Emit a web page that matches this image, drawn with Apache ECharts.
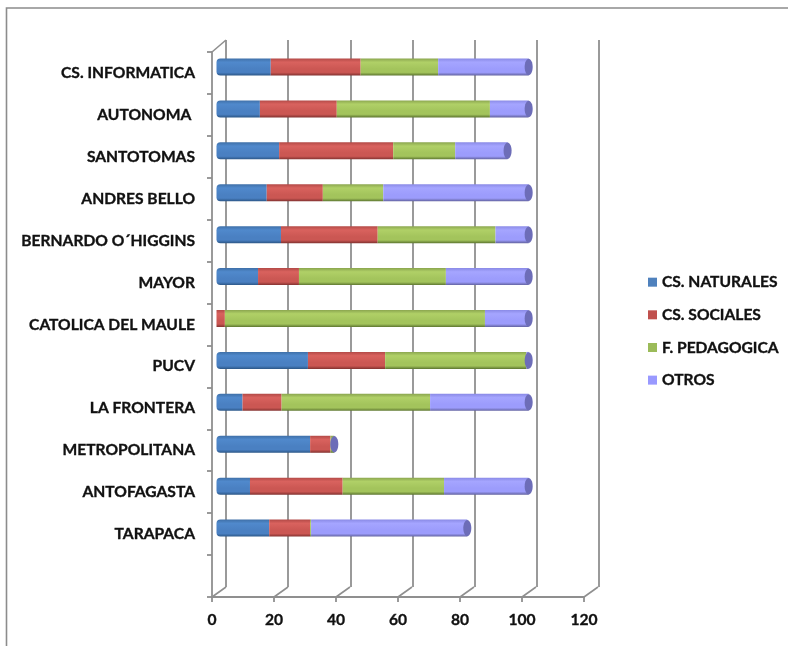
<!DOCTYPE html>
<html>
<head>
<meta charset="utf-8">
<style>html,body{margin:0;padding:0;background:#fff}#c{width:788px;height:646px}</style>
<script src="https://cdn.jsdelivr.net/npm/echarts@6/dist/echarts.min.js"></script>
</head>
<body>
<div id="c"></div>
<script>
const categories = ['CS. INFORMATICA','AUTONOMA ','SANTOTOMAS','ANDRES BELLO','BERNARDO O´HIGGINS','MAYOR','CATOLICA DEL MAULE','PUCV','LA FRONTERA','METROPOLITANA','ANTOFAGASTA','TARAPACA',''];
const naturales = [17.5,14,20.2,16.2,20.8,13.4,0,29.5,8.4,30.2,10.8,17,null];
const sociales  = [29,24.8,36.8,18.1,31.2,13.2,2.7,24.9,12.6,6.6,29.9,13.2,null];
const pedagogica= [25,49.4,20,19.5,38,47.4,83.9,45.6,47.9,1.2,32.7,0.3,null];
const otros     = [29.2,12.5,16.9,46.9,10.7,26.7,14.1,0.7,31.8,0,27.3,50.4,null];
const seriesNames = ['CS. NATURALES','CS. SOCIALES','F. PEDAGOGICA','OTROS'];
const xTicks = [0,20,40,60,80,100,120];

const FONT = 'Lato';
const GRIDC = '#8f8f8f';
const DX = 14, DY = -10;
function grad(a,b,c,d){
  return {type:'linear',x:0,y:0,x2:0,y2:1,colorStops:[
    {offset:0,color:a},{offset:.22,color:b},{offset:.62,color:c},{offset:.82,color:c},{offset:1,color:d}]};
}
const fills = [
  grad('#3f70a8','#5089cc','#4a80c2','#2c5787'),
  grad('#b34a47','#d9625e','#cb5753','#823230'),
  grad('#8ba64f','#b0d067','#a3c45c','#5d7630'),
  grad('#8a8ae6','#a5a5ff','#9c9cfc','#62629f')
];
const flat = ['#4f81bd','#c0504d','#9bbb59','#9999ff'];
const values = [naturales,sociales,pedagogica,otros];
const totals = categories.map((_,i)=> values[3][i]===null ? null : values.reduce((s,a)=>s+a[i],0));

const chart = echarts.init(document.getElementById('c'),null,{renderer:'canvas'});
const valueAxisBase = {type:'value',min:0,max:120,interval:20};
const catBase = {type:'category',data:categories,inverse:true};
const lineCfg = {lineStyle:{color:GRIDC,width:1.8}};
const textCfg = {fontFamily:FONT,fontWeight:'bold',fontSize:15.6,color:'#111',textBorderColor:'#111',textBorderWidth:0.35};

chart.setOption({
  animation:false,
  backgroundColor:'#fff',
  graphic:[
    {type:'polyline',z:0,shape:{points:[[6.5,646],[6.5,8],[788,8]]},style:{stroke:'#8c8c8c',lineWidth:1.6,fill:null}}
  ],
  legend:{
    orient:'vertical',left:643,top:269,itemWidth:9,itemHeight:9,itemGap:16.3,icon:'rect',
    textStyle:Object.assign({},textCfg),
    data:seriesNames.map((n,i)=>({name:n,itemStyle:{color:flat[i],borderWidth:0}}))
  },
  grid:[
    {left:212,top:52,width:372,height:545},
    {left:226,top:40,width:373,height:547},
    {left:216.5,top:46,width:372,height:545}
  ],
  xAxis:[
    Object.assign({},valueAxisBase,{gridIndex:0,
      axisLine:{show:true,...lineCfg},axisTick:{show:true,length:5,...lineCfg},
      splitLine:{show:false},
      axisLabel:Object.assign({margin:15},textCfg)}),
    Object.assign({},valueAxisBase,{gridIndex:1,
      axisLine:{show:false},axisTick:{show:false},axisLabel:{show:false},
      splitLine:{show:true,...lineCfg}}),
    Object.assign({},valueAxisBase,{gridIndex:2,show:false,splitLine:{show:false}})
  ],
  yAxis:[
    Object.assign({},catBase,{gridIndex:0,
      axisLine:{show:true,...lineCfg},axisTick:{show:true,length:5,...lineCfg},
      axisLabel:Object.assign({margin:17,interval:0},textCfg)}),
    Object.assign({},catBase,{gridIndex:1,show:false}),
    Object.assign({},catBase,{gridIndex:2,show:false})
  ],
  series:[
    {type:'custom',name:'floor',xAxisIndex:0,yAxisIndex:0,silent:true,z:1,
      data:xTicks.map(v=>[v]),
      encode:{x:0},
      renderItem(params,api){
        const x=api.coord([api.value(0),0])[0];
        const b=params.coordSys.y+params.coordSys.height;
        return {type:'line',shape:{x1:x,y1:b,x2:x+DX,y2:b+DY},style:{stroke:GRIDC,lineWidth:1.6}};
      }},
    {type:'custom',name:'corner',xAxisIndex:0,yAxisIndex:0,silent:true,z:1,
      data:[[xTicks[0]]],
      encode:{x:0},
      renderItem(params,api){
        const x=api.coord([api.value(0),0])[0];
        const t=params.coordSys.y;
        return {type:'line',shape:{x1:x,y1:t,x2:x+DX,y2:t+DY-2},style:{stroke:GRIDC,lineWidth:1.6}};
      }},
    ...seriesNames.map((n,i)=>({
      type:'bar',name:n,xAxisIndex:2,yAxisIndex:2,stack:'t',barWidth:17,z:3,
      data:values[i],
      itemStyle:{color:fills[i],borderRadius:i===0?[4,0,0,4]:0}
    })),
    {type:'custom',name:'caps',xAxisIndex:2,yAxisIndex:2,silent:true,z:4,
      data:totals.map((t,i)=>[t,i]),
      encode:{x:0,y:1},
      renderItem(params,api){
        if(api.value(0)===null||isNaN(api.value(0))) return;
        const p=api.coord([api.value(0),api.value(1)]);
        return {type:'ellipse',shape:{cx:p[0],cy:p[1],rx:4,ry:8.2},style:{fill:'#6d6db8'}};
      }}
  ]
});
</script>
</body>
</html>
